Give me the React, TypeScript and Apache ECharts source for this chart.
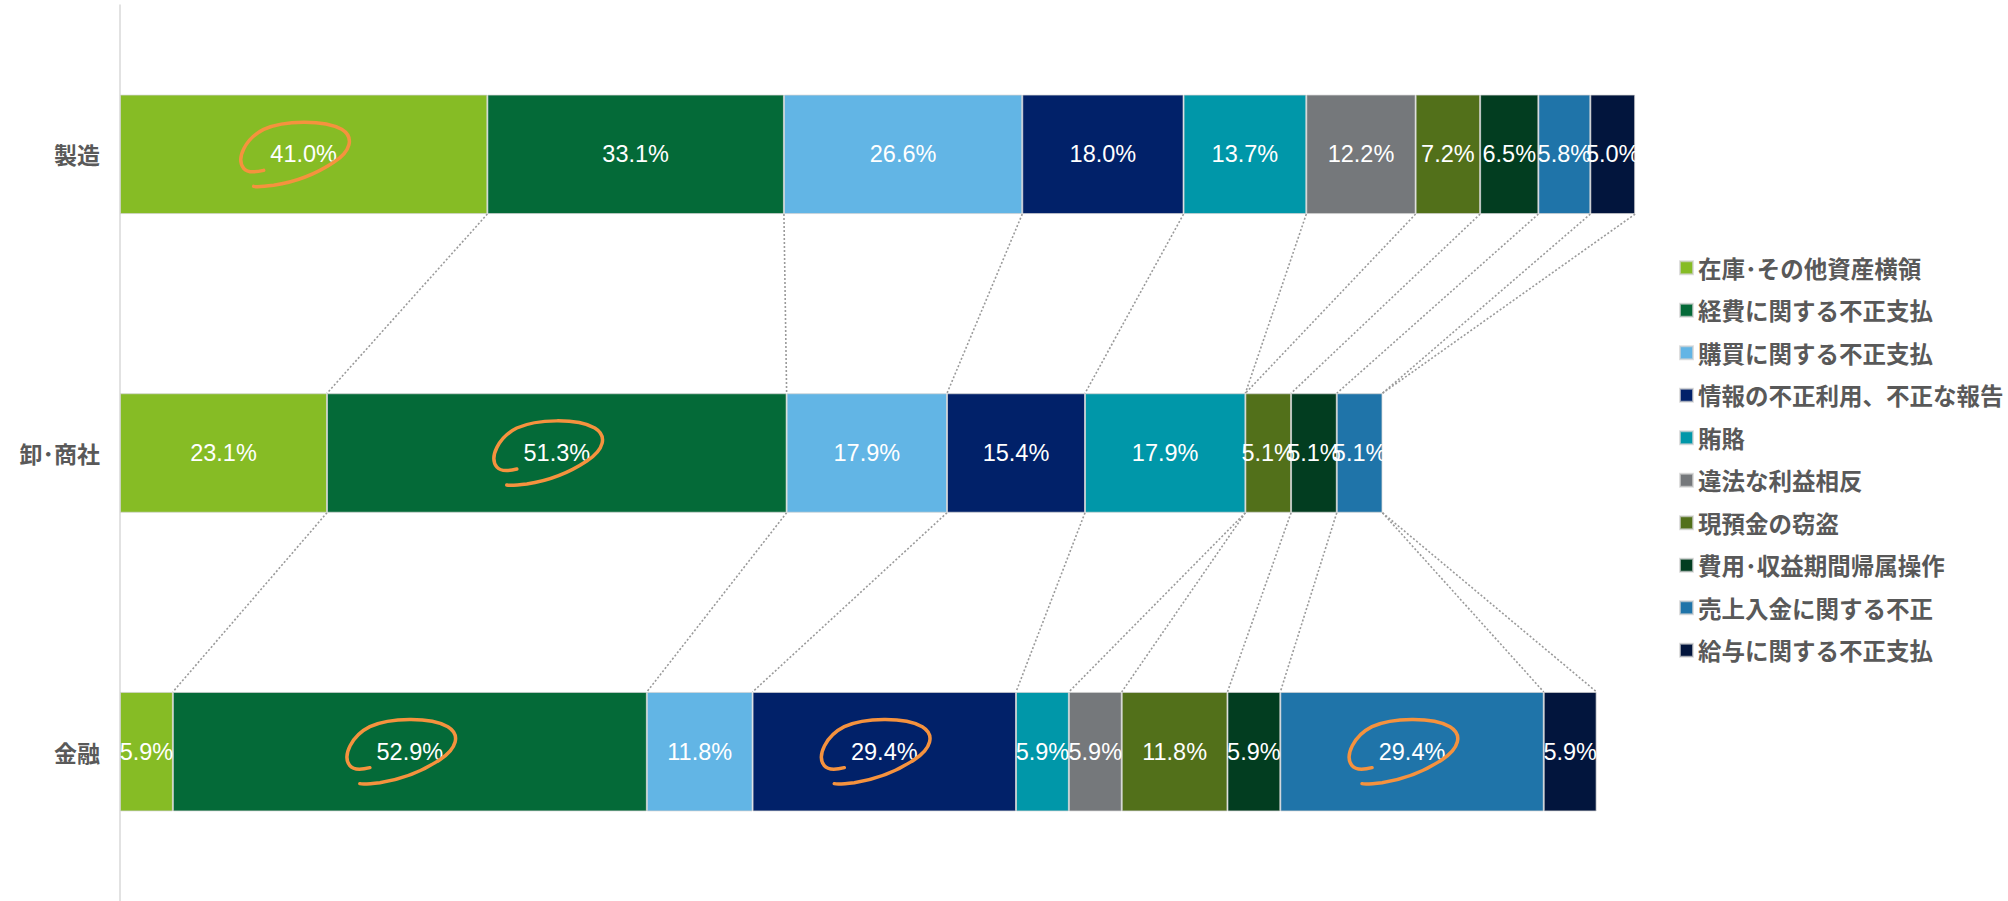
import React, { useEffect, useRef } from 'react';
import * as echarts from 'echarts';

const categories = ['製造', '卸･商社', '金融'];
const seriesNames = [
  '在庫･その他資産横領',
  '経費に関する不正支払',
  '購買に関する不正支払',
  '情報の不正利用、不正な報告',
  '賄賂',
  '違法な利益相反',
  '現預金の窃盗',
  '費用･収益期間帰属操作',
  '売上入金に関する不正',
  '給与に関する不正支払',
];
const seriesColors = [
  '#86BC25', '#046A38', '#62B5E5', '#012169', '#0097A9',
  '#75787B', '#52701A', '#023D20', '#1F74A9', '#02153D',
];

// values per category: [製造, 卸･商社, 金融]
const inventory = [41.0, 23.1, 5.9];
const expenses = [33.1, 51.3, 52.9];
const purchasing = [26.6, 17.9, 11.8];
const reporting = [18.0, 15.4, 29.4];
const bribery = [13.7, 17.9, 5.9];
const conflict = [12.2, null, 5.9];
const cash = [7.2, 5.1, 11.8];
const period = [6.5, 5.1, 5.9];
const revenue = [5.8, 5.1, 29.4];
const payroll = [5.0, null, 5.9];

const seriesValues: (number | null)[][] = [
  inventory, expenses, purchasing, reporting, bribery,
  conflict, cash, period, revenue, payroll,
];

// circled labels: [category index, series index]
const highlights = [
  [0, 0],
  [1, 1],
  [2, 1],
  [2, 3],
  [2, 8],
];

const X_MAX = 180;
const PX_PER_UNIT = 8.96;
const BAR_RATIO = 0.4;

const LOOP_PATH =
  'M -40 16 C -48 18 -56 19 -60 14 C -68 4 -58 -16 -40 -25 C -20 -34 20 -35 38 -25 C 51 -17 47 -3 30 8 C 12 20 -10 28 -30 31 C -38 32 -46 33 -50 32';

let loopRegistered = false;

export default function App() {
  const ref = useRef<HTMLDivElement>(null);

  useEffect(() => {
    if (!ref.current) return;
    if (!loopRegistered) {
      echarts.graphic.registerShape('loop', echarts.graphic.extendPath(LOOP_PATH, {}));
      loopRegistered = true;
    }
    const chart = echarts.init(ref.current, undefined, { renderer: 'svg' });

    // cumulative boundaries per category
    const cum = categories.map((_, c) => {
      let s = 0;
      return seriesValues.map((vals) => {
        s += vals[c] ?? 0;
        return s;
      });
    });
    const connectors: number[][] = [];
    for (let c = 0; c < categories.length - 1; c++) {
      for (let k = 0; k < seriesValues.length; k++) {
        connectors.push([cum[c][k], cum[c + 1][k], c]);
      }
    }

    const barSeries = seriesNames.map((name, i) => ({
      name,
      type: 'bar',
      stack: 'total',
      barWidth: BAR_RATIO * 100 + '%',
      data: seriesValues[i].map((v) => (v == null ? '-' : v)),
      itemStyle: {
        color: seriesColors[i],
        borderColor: 'rgba(210,210,210,0.7)',
        borderWidth: 1,
      },
      label: {
        show: true,
        position: 'inside',
        color: '#ffffff',
        fontSize: 23.5,
        fontFamily: 'Liberation Sans, Arial, sans-serif',
        formatter: (p: any) => Number(p.value).toFixed(1) + '%',
      },
      emphasis: { disabled: true },
    }));

    const connectorSeries = {
      type: 'custom',
      name: 'connectors',
      silent: true,
      encode: { x: 0, y: 2 },
      data: connectors,
      z: 1,
      renderItem: (_params: any, api: any) => {
        const c = api.value(2);
        const pTop = api.coord([api.value(0), c]);
        const pBot = api.coord([api.value(1), c + 1]);
        const band = api.size([0, 1])[1];
        const half = (band * BAR_RATIO) / 2;
        return {
          type: 'line',
          shape: { x1: pTop[0], y1: pTop[1] + half, x2: pBot[0], y2: pBot[1] - half },
          style: { stroke: '#9a9a9a', lineWidth: 1.6, lineDash: [2, 2] },
        };
      },
    };

    chart.setOption({
      animation: false,
      grid: { left: 120, top: 5, width: X_MAX * PX_PER_UNIT, height: 897 },
      xAxis: { type: 'value', min: 0, max: X_MAX, show: false },
      yAxis: {
        type: 'category',
        data: categories,
        inverse: true,
        axisLine: { show: true, lineStyle: { color: '#d9d9d9', width: 1.5 } },
        axisTick: { show: false },
        axisLabel: {
          color: '#595959',
          fontSize: 23,
          fontWeight: 'bold',
          fontFamily: 'Noto Sans CJK JP',
          margin: 20,
        },
      },
      legend: {
        data: seriesNames,
        orient: 'vertical',
        left: 1674,
        top: 251,
        itemWidth: 13,
        itemHeight: 13,
        itemGap: 19,
        icon: 'rect',
        selectedMode: false,
        textStyle: {
          color: '#595959',
          fontSize: 23.5,
          lineHeight: 23.5,
          fontWeight: 'bold',
          fontFamily: 'Noto Sans CJK JP',
        },
      },
      series: [...barSeries, connectorSeries],
    });

    const graphics = highlights.map(([c, s]) => {
      const start = s === 0 ? 0 : cum[c][s - 1];
      const mid = (start + cum[c][s]) / 2;
      const pt = chart.convertToPixel({ gridIndex: 0 }, [mid, c]) as number[];
      return {
        type: 'loop',
        x: pt[0],
        y: pt[1],
        silent: true,
        z: 100,
        style: { fill: 'none', stroke: '#F5923E', lineWidth: 3.5, lineCap: 'round' },
      };
    });
    chart.setOption({ graphic: graphics });

    return () => chart.dispose();
  }, []);

  return (
    <div
      ref={ref}
      style={{ position: 'fixed', left: 0, top: 0, width: 2008, height: 901, background: '#ffffff' }}
    />
  );
}
